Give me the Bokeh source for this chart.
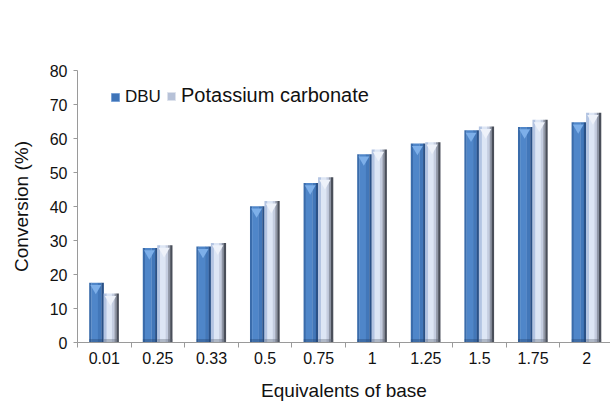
import numpy as np
from bokeh.plotting import figure
from bokeh.models import (ColumnDataSource, FixedTicker, Legend, LegendItem, Range1d)
from bokeh.transform import dodge
from bokeh.embed import file_html
from bokeh.resources import INLINE

# ---- data ----
categories = ["0.01", "0.25", "0.33", "0.5", "0.75", "1", "1.25", "1.5", "1.75", "2"]
dbu = [17.6, 27.8, 28.2, 40.1, 46.9, 55.4, 58.5, 62.4, 63.4, 64.8]
k2co3 = [14.4, 28.6, 29.3, 41.6, 48.6, 56.8, 58.9, 63.5, 65.5, 67.6]
y_ticks = [0, 10, 20, 30, 40, 50, 60, 70, 80]
series_names = ["DBU", "Potassium carbonate"]

n = len(categories)
xc = [i + 0.5 for i in range(n)]
src = ColumnDataSource(dict(x=xc, dbu=dbu, k=k2co3, cat=categories))
# legend-only source: NaN point is never drawn on the plot
legend_src = ColumnDataSource(dict(x=[np.nan], y=[np.nan]))

FONT = "Liberation Sans"

p = figure(width=610, height=405, output_backend="svg", toolbar_location=None,
           x_range=Range1d(0, 9.944), y_range=Range1d(0, 80),
           min_border_left=77, min_border_right=0, min_border_top=70, min_border_bottom=63)
p.outline_line_color = None
p.grid.visible = False
p.background_fill_color = "white"
p.border_fill_color = "white"

PX = 53.6  # pixels per category (approx), used only for marker sizing

# ---- bars drawn as shaded strips ----
def shaded_bar(field, left, right, strips, bevel_color, base_color):
    w = right - left
    for (a, b, col) in strips:
        off = left + w * (a + b) / 2
        sw = w * (b - a) + 0.004
        p.vbar(x=dodge('x', off, range=p.x_range), top=field, bottom=0, width=sw,
               fill_color=col, line_color=None, source=src)
    # darker base band
    p.vbar(x=dodge('x', left + w / 2, range=p.x_range), top=1.0, bottom=0, width=w,
           fill_color=base_color, fill_alpha=0.35, line_color=None, source=src)
    # top bevel (V shape)
    size = w * PX * 0.75
    p.scatter(x=dodge('x', left + w * 0.45, range=p.x_range),
              y=dodge(field, -size * 0.5 / 3.4, range=p.y_range), marker="inverted_triangle",
              size=size, fill_color=bevel_color, line_color=None, source=src)

dbu_strips = [(0.0, 0.15, "#3a6cab"), (0.15, 0.6, "#4f86c9"), (0.6, 0.85, "#4277b9"),
              (0.85, 1.0, "#2a5187")]
k_strips = [(0.0, 0.2, "#b3c4e2"), (0.2, 0.55, "#dde6f5"), (0.55, 0.72, "#c4cde0"),
            (0.72, 0.86, "#8f96a6"), (0.86, 1.0, "#4a4f5a")]

shaded_bar('dbu', -0.28, -0.01, dbu_strips, "#7dafe9", "#1f3f6a")
shaded_bar('k', -0.01, 0.27, k_strips, "#eef2fa", "#5a6070")

# legend swatch renderers
r_dbu = p.scatter(x='x', y='y', source=legend_src, marker="square",
                  fill_color="#3f74b8", line_color="#7aa2d6", line_width=1)
r_k = p.scatter(x='x', y='y', source=legend_src, marker="square",
                fill_color="#b7c2d8", line_color="#dde2ec", line_width=1)

# ---- axes ----
xt = FixedTicker(ticks=xc, minor_ticks=list(range(0, n + 1)))
p.xaxis.ticker = xt
p.xaxis.major_label_overrides = {x: c for x, c in zip(xc, categories)}
p.xaxis.major_tick_out = 0
p.xaxis.major_tick_in = 0
p.xaxis.minor_tick_out = 5
p.xaxis.minor_tick_in = 0
p.xaxis.minor_tick_line_color = "#9a9a9a"
p.xaxis.axis_line_color = "#9a9a9a"
p.xaxis.major_label_text_font = FONT
p.xaxis.major_label_text_font_size = "16px"
p.xaxis.major_label_text_color = "#111111"
p.xaxis.major_label_standoff = 4
p.xaxis.axis_label = "Equivalents of base"
p.xaxis.axis_label_text_font = FONT
p.xaxis.axis_label_text_font_size = "19px"
p.xaxis.axis_label_text_font_style = "normal"
p.xaxis.axis_label_text_color = "#111111"
p.xaxis.axis_label_standoff = 13

p.yaxis.ticker = FixedTicker(ticks=y_ticks)
p.yaxis.minor_tick_line_color = None
p.yaxis.major_tick_out = 4
p.yaxis.major_tick_in = 0
p.yaxis.major_tick_line_color = "#9a9a9a"
p.yaxis.axis_line_color = "#9a9a9a"
p.yaxis.major_label_text_font = FONT
p.yaxis.major_label_text_font_size = "16px"
p.yaxis.major_label_text_color = "#111111"
p.yaxis.major_label_standoff = 6
p.yaxis.axis_label = "Conversion (%)"
p.yaxis.axis_label_text_font = FONT
p.yaxis.axis_label_text_font_size = "19px"
p.yaxis.axis_label_text_font_style = "normal"
p.yaxis.axis_label_text_color = "#111111"
p.yaxis.axis_label_standoff = 15

# ---- legends ----
def make_legend(label, r, loc, fs):
    return Legend(items=[LegendItem(label=label, renderers=[r])], location=loc,
                  border_line_color=None, background_fill_alpha=0, padding=0, margin=0,
                  glyph_width=20, glyph_height=20, label_standoff=0, label_height=20,
                  label_text_font=FONT, label_text_font_size=fs, label_text_color="#111111")

p.add_layout(make_legend(series_names[0], r_dbu, (28, 235), "17px"), "center")
p.add_layout(make_legend(series_names[1], r_k, (84, 235), "20px"), "center")

open("out.html", "w").write(file_html(p, INLINE))
